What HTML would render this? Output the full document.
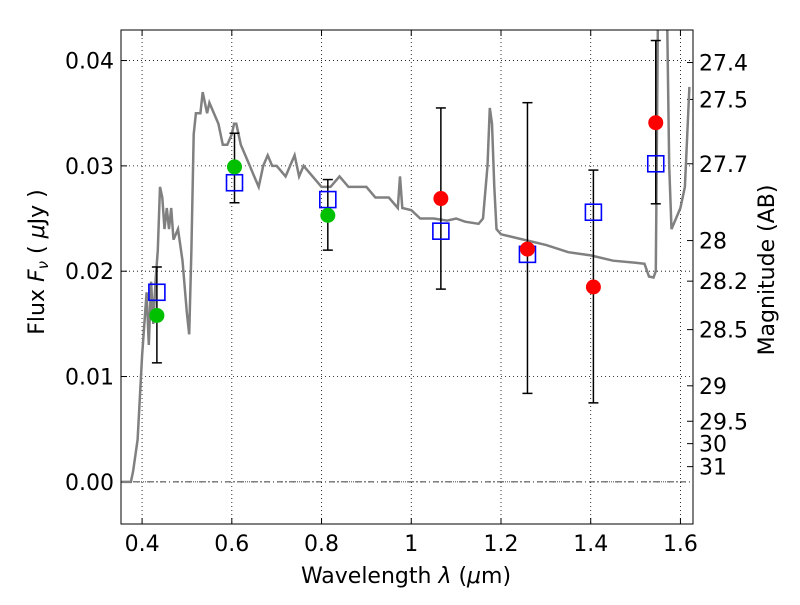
<!DOCTYPE html>
<html><head><meta charset="utf-8"><style>
body{margin:0;background:#fff;}
svg text{font-family:"DejaVu Sans","Liberation Sans",sans-serif;}
</style></head><body>
<svg id="chart" width="800" height="600" viewBox="0 0 800 600"></svg>
<script>
const sedWave=[0.355,0.375,0.38,0.39,0.40,0.41,0.415,0.42,0.425,0.43,0.435,0.44,0.445,0.45,0.455,0.46,0.465,0.47,0.48,0.49,0.50,0.505,0.51,0.515,0.52,0.53,0.535,0.54,0.545,0.55,0.56,0.57,0.58,0.59,0.60,0.605,0.61,0.62,0.63,0.64,0.65,0.66,0.67,0.68,0.69,0.70,0.72,0.74,0.75,0.76,0.78,0.80,0.82,0.84,0.86,0.88,0.90,0.92,0.95,0.97,0.975,0.98,1.0,1.02,1.05,1.08,1.10,1.12,1.15,1.16,1.17,1.175,1.18,1.185,1.19,1.20,1.25,1.30,1.35,1.40,1.45,1.50,1.52,1.53,1.54,1.545,1.55,1.57,1.575,1.58,1.59,1.60,1.61,1.62];
const sedFlux=[0,0,0.001,0.004,0.012,0.018,0.013,0.019,0.015,0.019,0.022,0.028,0.027,0.024,0.026,0.024,0.026,0.023,0.024,0.021,0.016,0.014,0.022,0.033,0.035,0.035,0.037,0.036,0.035,0.036,0.035,0.034,0.032,0.032,0.033,0.034,0.034,0.032,0.031,0.030,0.029,0.028,0.030,0.031,0.030,0.030,0.029,0.031,0.029,0.030,0.029,0.028,0.028,0.029,0.028,0.028,0.028,0.027,0.027,0.026,0.029,0.026,0.0258,0.025,0.025,0.0248,0.025,0.0247,0.0245,0.025,0.030,0.0355,0.034,0.028,0.024,0.0235,0.023,0.0225,0.0218,0.0215,0.021,0.0208,0.0207,0.0195,0.0194,0.020,0.045,0.045,0.030,0.024,0.025,0.026,0.028,0.0375];
const greenWave=[0.433,0.606,0.814];
const greenFlux=[0.0158,0.0299,0.0253];
const redWave=[1.066,1.259,1.406,1.545];
const redFlux=[0.0269,0.0221,0.0185,0.0341];
const modelWave=[0.433,0.606,0.814,1.066,1.259,1.406,1.545];
const modelFlux=[0.018,0.0284,0.0268,0.0238,0.0216,0.0256,0.0302];
const errLow=[0.0113,0.0265,0.0220,0.0183,0.0084,0.0075,0.0264];
const errHigh=[0.0204,0.0331,0.0287,0.0355,0.0360,0.0296,0.0419];
const xTicks=[0.4,0.6,0.8,1.0,1.2,1.4,1.6];
const xTickLabels=["0.4","0.6","0.8","1","1.2","1.4","1.6"];
const yTicks=[0,0.01,0.02,0.03,0.04];
const yTickLabels=["0.00","0.01","0.02","0.03","0.04"];
const magTicks=[27.4,27.5,27.7,28,28.2,28.5,29,29.5,30,31];
const magTickLabels=["27.4","27.5","27.7","28","28.2","28.5","29","29.5","30","31"];

const L=121,R=693,T=30,B=524;
const xMin=0.353,xMax=1.628,yMin=-0.0040,yMax=0.0429;
const X=v=>L+(v-xMin)/(xMax-xMin)*(R-L);
const Y=v=>B-(v-yMin)/(yMax-yMin)*(B-T);
const svg=document.getElementById('chart');
const NS='http://www.w3.org/2000/svg';
function mk(tag,attrs,parent){const e=document.createElementNS(NS,tag);for(const k in attrs)e.setAttribute(k,attrs[k]);(parent||svg).appendChild(e);return e;}

const defs=mk('defs',{});
const cp=mk('clipPath',{id:'clip'},defs);
mk('rect',{x:L,y:T,width:R-L,height:B-T},cp);

xTicks.forEach((v,i)=>{
  const g=mk('line',{x1:X(v),x2:X(v),y1:T,y2:B,stroke:'#000','stroke-width':0.8,'stroke-dasharray':'1,3'});
  
  
  const t=mk('line',{x1:X(v),x2:X(v),y1:B,y2:B-6,stroke:'#000'});
  
  
  mk('line',{x1:X(v),x2:X(v),y1:T,y2:T+6,stroke:'#000'});
  const tx=mk('text',{x:X(v),y:B+27,'text-anchor':'middle','font-size':22});
  tx.textContent=xTickLabels[i];
  
  
});
yTicks.forEach((v,i)=>{
  const g=mk('line',{x1:L,x2:R,y1:Y(v),y2:Y(v),stroke:'#000','stroke-width':0.8,'stroke-dasharray':'1,3'});
  
  
  mk('line',{x1:L,x2:L+6,y1:Y(v),y2:Y(v),stroke:'#000'});
  const tx=mk('text',{x:L-7,y:Y(v)+8,'text-anchor':'end','font-size':22});
  tx.textContent=yTickLabels[i];
  
  
});
magTicks.forEach((m,i)=>{
  const f=Math.pow(10,(23.9-m)/2.5);
  mk('line',{x1:R-6,x2:R,y1:Y(f),y2:Y(f),stroke:'#000'});
  const tx=mk('text',{x:R+6,y:Y(f)+8,'text-anchor':'start','font-size':22});
  tx.textContent=magTickLabels[i];
  
  
});
const z=mk('line',{x1:L,x2:R,y1:Y(0),y2:Y(0),stroke:'#000','stroke-width':0.8,'stroke-dasharray':'6,3,1,3'});



const pts=sedWave.map((w,i)=>X(w).toFixed(1)+','+Y(sedFlux[i]).toFixed(1)).join(' ');
const sed=mk('polyline',{points:pts,fill:'none',stroke:'#808080','stroke-width':2.5,'clip-path':'url(#clip)'});



modelWave.forEach((w,i)=>{
  const g=mk('g',{stroke:'#000','stroke-width':1.5});
  
  
  mk('line',{x1:X(w),x2:X(w),y1:Y(errLow[i]),y2:Y(errHigh[i])},g);
  mk('line',{x1:X(w)-5,x2:X(w)+5,y1:Y(errLow[i]),y2:Y(errLow[i])},g);
  mk('line',{x1:X(w)-5,x2:X(w)+5,y1:Y(errHigh[i]),y2:Y(errHigh[i])},g);
});
modelWave.forEach((w,i)=>{
  const s=mk('rect',{x:X(w)-8,y:Y(modelFlux[i])-8,width:16,height:16,fill:'none',stroke:'#0000ff','stroke-width':1.6});
  
  
});
greenWave.forEach((w,i)=>{
  const c=mk('circle',{cx:X(w),cy:Y(greenFlux[i]),r:7.5,fill:'#00c000',stroke:'none'});
  
  
});
redWave.forEach((w,i)=>{
  const c=mk('circle',{cx:X(w),cy:Y(redFlux[i]),r:7.5,fill:'#ff0000',stroke:'none'});
  
  
});
const fr=mk('rect',{x:L,y:T,width:R-L,height:B-T,fill:'none',stroke:'#000','stroke-width':1});


const xt=mk('text',{x:406,y:583,'text-anchor':'middle','font-size':22});
xt.innerHTML='Wavelength  <tspan font-style="italic">λ</tspan> (<tspan font-style="italic">μ</tspan>m)';


const yt=mk('text',{x:0,y:0,'text-anchor':'middle','font-size':22,transform:'translate(44,262) rotate(-90)'});
yt.innerHTML='Flux  <tspan font-style="italic">F</tspan><tspan font-style="italic" font-size="15" dy="4">ν</tspan><tspan dy="-4">  ( </tspan><tspan font-style="italic">μ</tspan>Jy )';


const rt=mk('text',{x:0,y:0,'text-anchor':'middle','font-size':22,transform:'translate(774,270) rotate(-90)'});
rt.textContent='Magnitude (AB)';


</script>
</body></html>
